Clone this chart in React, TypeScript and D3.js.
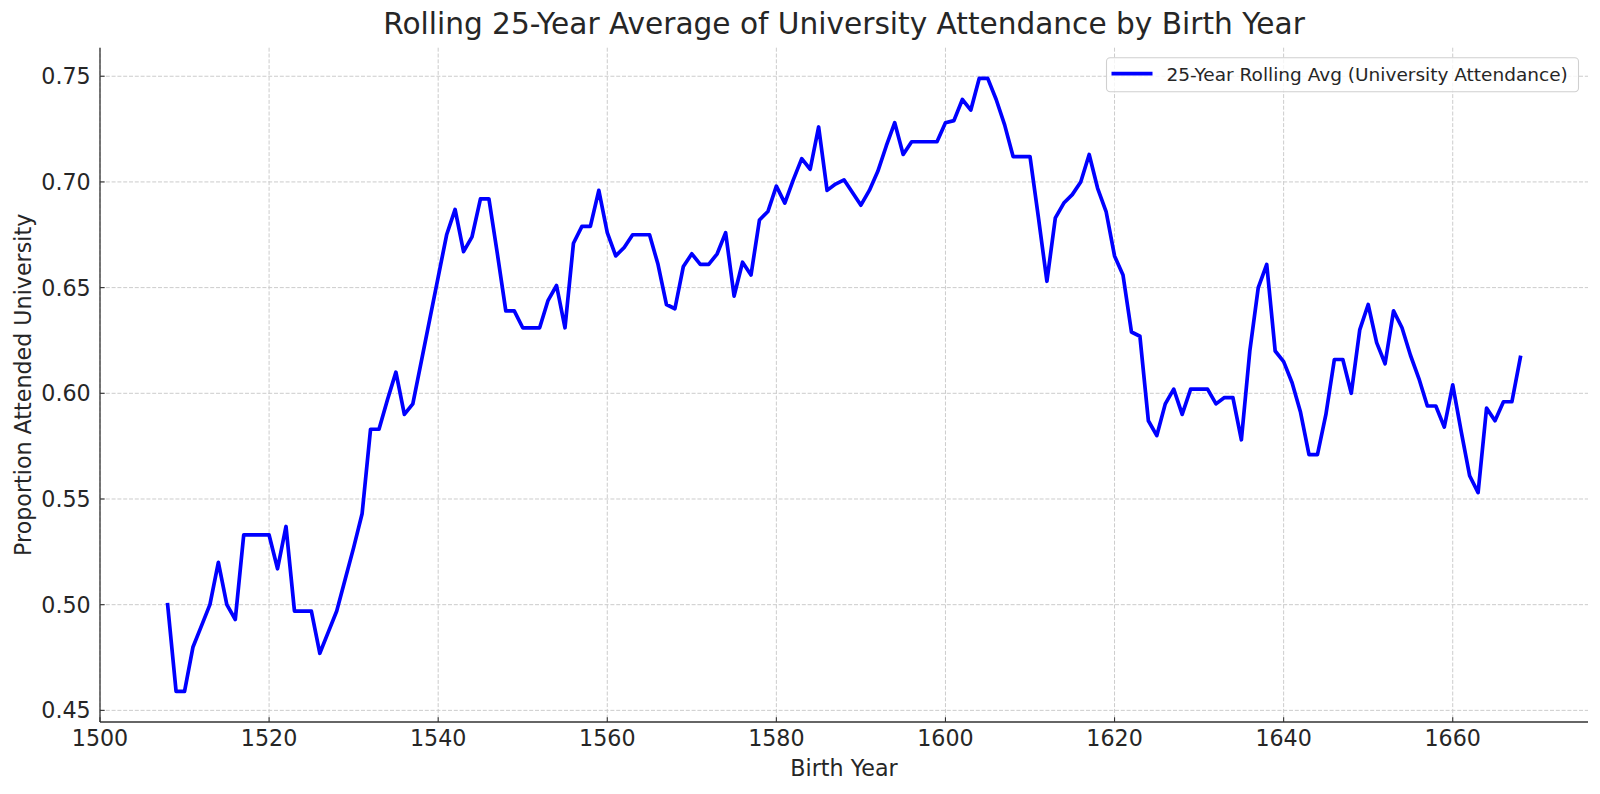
import React from 'react';
import { scaleLinear, line, extent, range } from 'd3';

const years = [
    1508, 1509, 1510, 1511, 1512, 1513, 1514, 1515, 1516, 1517,
    1518, 1519, 1520, 1521, 1522, 1523, 1524, 1525, 1526, 1527,
    1528, 1529, 1530, 1531, 1532, 1533, 1534, 1535, 1536, 1537,
    1538, 1539, 1540, 1541, 1542, 1543, 1544, 1545, 1546, 1547,
    1548, 1549, 1550, 1551, 1552, 1553, 1554, 1555, 1556, 1557,
    1558, 1559, 1560, 1561, 1562, 1563, 1564, 1565, 1566, 1567,
    1568, 1569, 1570, 1571, 1572, 1573, 1574, 1575, 1576, 1577,
    1578, 1579, 1580, 1581, 1582, 1583, 1584, 1585, 1586, 1587,
    1588, 1589, 1590, 1591, 1592, 1593, 1594, 1595, 1596, 1597,
    1598, 1599, 1600, 1601, 1602, 1603, 1604, 1605, 1606, 1607,
    1608, 1609, 1610, 1611, 1612, 1613, 1614, 1615, 1616, 1617,
    1618, 1619, 1620, 1621, 1622, 1623, 1624, 1625, 1626, 1627,
    1628, 1629, 1630, 1631, 1632, 1633, 1634, 1635, 1636, 1637,
    1638, 1639, 1640, 1641, 1642, 1643, 1644, 1645, 1646, 1647,
    1648, 1649, 1650, 1651, 1652, 1653, 1654, 1655, 1656, 1657,
    1658, 1659, 1660, 1661, 1662, 1663, 1664, 1665, 1666, 1667,
    1668,
];

// 25-year rolling average
const rollingAvg = [
    0.500, 0.459, 0.459, 0.480, 0.490, 0.500, 0.520, 0.500, 0.493, 0.533,
    0.533, 0.533, 0.533, 0.517, 0.537, 0.497, 0.497, 0.497, 0.477, 0.487,
    0.497, 0.512, 0.527, 0.543, 0.583, 0.583, 0.597, 0.610, 0.590, 0.595,
    0.615, 0.635, 0.655, 0.675, 0.687, 0.667, 0.674, 0.692, 0.692, 0.666,
    0.639, 0.639, 0.631, 0.631, 0.631, 0.644, 0.651, 0.631, 0.671, 0.679,
    0.679, 0.696, 0.676, 0.665, 0.669, 0.675, 0.675, 0.675, 0.661, 0.642,
    0.640, 0.660, 0.666, 0.661, 0.661, 0.666, 0.676, 0.646, 0.662, 0.656,
    0.682, 0.686, 0.698, 0.690, 0.701, 0.711, 0.706, 0.726, 0.696, 0.699,
    0.701, 0.695, 0.689, 0.696, 0.705, 0.717, 0.728, 0.713, 0.719, 0.719,
    0.719, 0.719, 0.728, 0.729, 0.739, 0.734, 0.749, 0.749, 0.739, 0.727,
    0.712, 0.712, 0.712, 0.683, 0.653, 0.683, 0.690, 0.694, 0.700, 0.713,
    0.697, 0.686, 0.665, 0.656, 0.629, 0.627, 0.587, 0.580, 0.595, 0.602,
    0.590, 0.602, 0.602, 0.602, 0.595, 0.598, 0.598, 0.578, 0.620, 0.650,
    0.661, 0.620, 0.615, 0.605, 0.591, 0.571, 0.571, 0.590, 0.616, 0.616,
    0.600, 0.630, 0.642, 0.624, 0.614, 0.639, 0.631, 0.618, 0.607, 0.594,
    0.594, 0.584, 0.604, 0.582, 0.561, 0.553, 0.593, 0.587, 0.596, 0.596,
    0.617,
];

const xTicks = [1500, 1520, 1540, 1560, 1580, 1600, 1620, 1640, 1660];
const yTicks = [0.45, 0.5, 0.55, 0.6, 0.65, 0.7, 0.75];

const title = 'Rolling 25-Year Average of University Attendance by Birth Year';
const xLabel = 'Birth Year';
const yLabel = 'Proportion Attended University';
const legendLabel = '25-Year Rolling Avg (University Attendance)';

const W = 1600;
const H = 794;
const margin = { left: 100, right: 12, top: 47.7, bottom: 72 };
const FONT = '"DejaVu Sans", Verdana, sans-serif';
const TEXT = '#262626';

// matplotlib style 5% padding around the data
const padded = (lo: number, hi: number) => {
    const m = (hi - lo) * 0.05;
    return [lo - m, hi + m];
};

export default function App() {
    const [x0, x1]: any = extent(years);
    const [y0, y1]: any = extent(rollingAvg);

    const xScale = scaleLinear()
        .domain(padded(x0, x1))
        .range([margin.left, W - margin.right]);
    const yScale = scaleLinear()
        .domain(padded(y0, y1))
        .range([H - margin.bottom, margin.top]);

    const points = range(years.length).map((i) => [years[i], rollingAvg[i]]);
    const path = line<number[]>()
        .x((d) => xScale(d[0]))
        .y((d) => yScale(d[1]))(points);

    const left = margin.left;
    const right = W - margin.right;
    const top = margin.top;
    const bottom = H - margin.bottom;
    const midX = (left + right) / 2;
    const midY = (top + bottom) / 2;

    // legend box (upper right)
    const lgW = 472;
    const lgH = 34;
    const lgX = right - 9.5 - lgW;
    const lgY = top + 10;

    return (
        <svg
            width={W}
            height={H}
            style={{ position: 'absolute', left: 0, top: 0, background: '#fff' }}
            fontFamily={FONT}
        >
            <rect x={0} y={0} width={W} height={H} fill="#fff" />

            {/* grid */}
            <g stroke="#cccccc" strokeWidth={1} strokeDasharray="4,1.8">
                {xTicks.map((t) => (
                    <line key={'gx' + t} x1={xScale(t)} x2={xScale(t)} y1={top} y2={bottom} />
                ))}
                {yTicks.map((t) => (
                    <line key={'gy' + t} x1={left} x2={right} y1={yScale(t)} y2={yScale(t)} />
                ))}
            </g>

            {/* data line */}
            <path
                d={path || ''}
                fill="none"
                stroke="#0000ff"
                strokeWidth={3.7}
                strokeLinejoin="round"
                strokeLinecap="square"
            />

            {/* spines: left + bottom only */}
            <g stroke="#333" strokeWidth={1.3}>
                <line x1={left} x2={left} y1={top} y2={bottom} />
                <line x1={left} x2={right} y1={bottom} y2={bottom} />
            </g>

            {/* x ticks */}
            <g fontSize={22.2} fill={TEXT} textAnchor="middle">
                {xTicks.map((t) => (
                    <g key={'xt' + t}>
                        <line x1={xScale(t)} x2={xScale(t)} y1={bottom} y2={bottom - 4.7} stroke="#333" strokeWidth={1.1} />
                        <text x={xScale(t)} y={bottom + 24}>
                            {t}
                        </text>
                    </g>
                ))}
            </g>

            {/* y ticks */}
            <g fontSize={22.2} fill={TEXT} textAnchor="end">
                {yTicks.map((t) => (
                    <g key={'yt' + t}>
                        <line x1={left} x2={left + 4.7} y1={yScale(t)} y2={yScale(t)} stroke="#333" strokeWidth={1.1} />
                        <text x={left - 9.3} y={yScale(t)} dy="0.36em">
                            {t.toFixed(2)}
                        </text>
                    </g>
                ))}
            </g>

            {/* axis labels */}
            <text x={midX} y={H - 18} fontSize={22.2} fill={TEXT} textAnchor="middle">
                {xLabel}
            </text>
            <text
                transform={`translate(31,${midY}) rotate(-90)`}
                fontSize={22.2}
                fill={TEXT}
                textAnchor="middle"
            >
                {yLabel}
            </text>

            {/* title */}
            <text x={midX} y={34} fontSize={29.6} fill={TEXT} textAnchor="middle">
                {title}
            </text>

            {/* legend */}
            <g>
                <rect
                    x={lgX}
                    y={lgY}
                    width={lgW}
                    height={lgH}
                    rx={3.7}
                    fill="#fff"
                    fillOpacity={0.8}
                    stroke="#d0d0d0"
                    strokeWidth={1.1}
                />
                <line
                    x1={lgX + 5}
                    x2={lgX + 46}
                    y1={lgY + lgH / 2 - 1}
                    y2={lgY + lgH / 2 - 1}
                    stroke="#0000ff"
                    strokeWidth={3.7}
                />
                <text x={lgX + 60} y={lgY + lgH / 2} dy="0.36em" fontSize={18.5} fill={TEXT}>
                    {legendLabel}
                </text>
            </g>
        </svg>
    );
}
